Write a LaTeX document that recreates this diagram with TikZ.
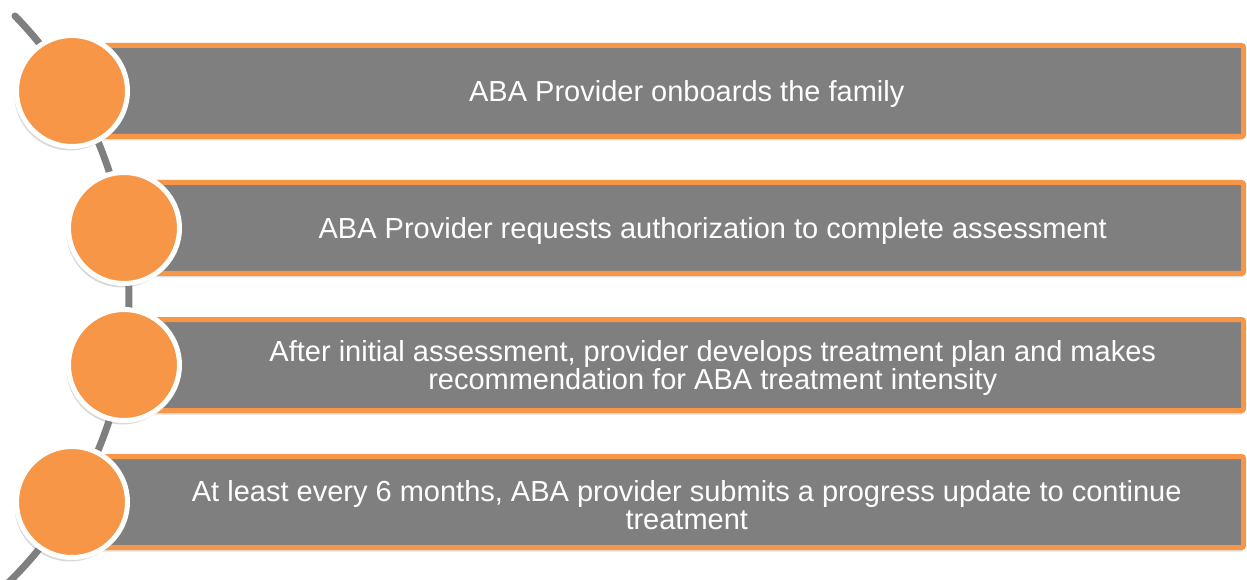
\documentclass[tikz,border=0pt]{standalone}
\usepackage{fontspec}
\setmainfont{Liberation Sans}
\usetikzlibrary{calc,shadows}
\definecolor{stepOrange}{RGB}{247,150,70}
\definecolor{stepGray}{RGB}{127,127,127}
\begin{document}
\begin{tikzpicture}[x=1pt,y=1pt,
  band/.style={draw=stepOrange, line width=5pt, fill=stepGray, rounded corners=2pt, minimum height=91pt, inner sep=0pt, outer sep=0pt, drop shadow={shadow xshift=0pt, shadow yshift=-4pt, opacity=0.25}},
  bullet/.style={circle, draw=white, line width=5pt, fill=stepOrange, minimum size=111pt, inner sep=0pt, outer sep=2.5pt, drop shadow={shadow xshift=-2pt, shadow yshift=-4pt, opacity=0.3}},
  caption/.style={text=white, font=\fontsize{29}{28}\selectfont, align=center, inner sep=0pt, yshift=-3pt}]
\useasboundingbox (0,0) rectangle (1247,579);
% the track behind the circles
\coordinate (arcctr) at (-272,283);
\draw[stepGray, line width=7pt, line cap=round] (arcctr) ++(44.3:401) arc[start angle=44.3, end angle=-48, radius=401];
% bars
\node[band, minimum width=1171.5pt] (b1) at (657.75,488) {};
\node[band, minimum width=1119.5pt] (b2) at (683.75,351) {};
\node[band, minimum width=1119.5pt] (b3) at (683.75,214) {};
\node[band, minimum width=1171.5pt] (b4) at (657.75,77) {};
% circles
\node[bullet] (c1) at (72,488) {};
\node[bullet] (c2) at (124,351) {};
\node[bullet] (c3) at (124,214) {};
\node[bullet] (c4) at (72,77) {};
% texts
\node[caption] (t1) at ($(c1.east)!0.5!(b1.east)$) {ABA Provider onboards the family};
\node[caption] (t2) at ($(c2.east)!0.5!(b2.east)$) {ABA Provider requests authorization to complete assessment};
\node[caption] (t3) at ($(c3.east)!0.5!(b3.east)$) {After initial assessment, provider develops treatment plan and makes\\recommendation for ABA treatment intensity};
\node[caption] (t4) at ($(c4.east)!0.5!(b4.east)$) {At least every 6 months, ABA provider submits a progress update to continue\\treatment};
\end{tikzpicture}
\end{document}
